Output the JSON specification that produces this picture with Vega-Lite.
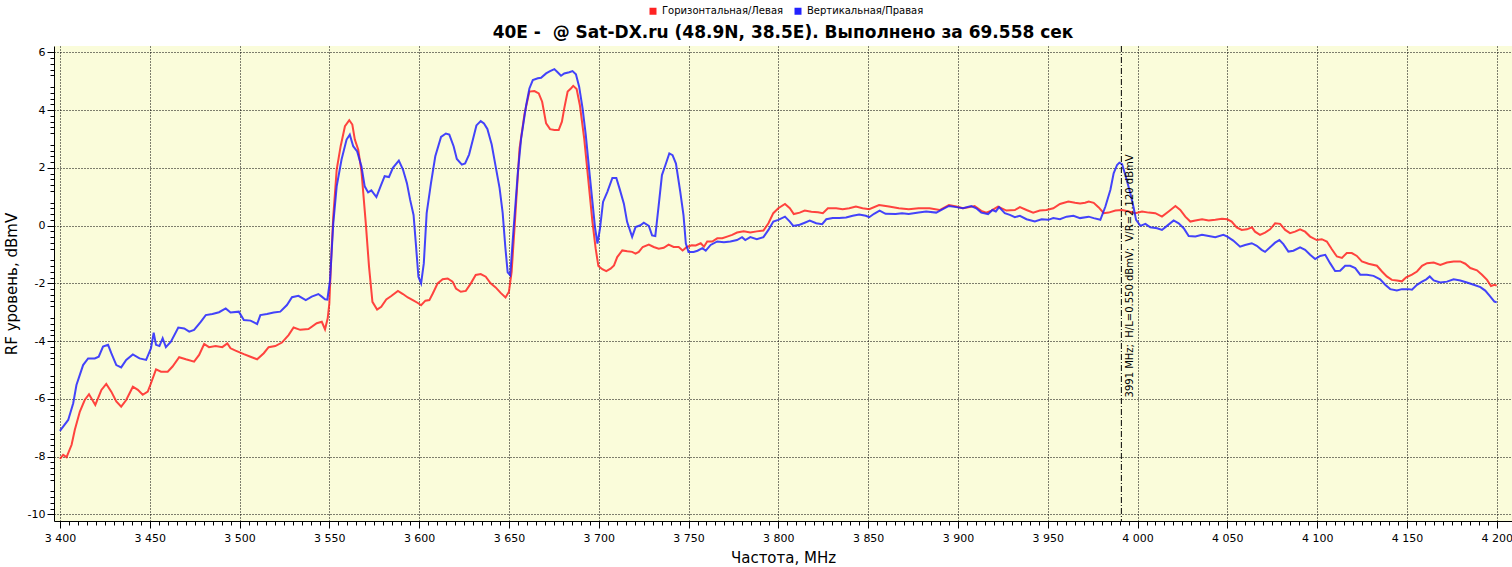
{
  "$schema": "https://vega.github.io/schema/vega-lite/v6.json",
  "autosize": "none",
  "padding": {"left": 54, "top": 46, "right": 0, "bottom": 46},
  "width": 1458,
  "height": 475,
  "background": "white",
  "title": {
    "text": "40E - \u00a0@ Sat-DX.ru (48.9N, 38.5E). Выполнено за 69.558 сек",
    "font": "DejaVu Sans",
    "fontSize": 17,
    "fontWeight": "bold",
    "anchor": "middle",
    "offset": 4,
    "dy": 40,
    "color": "black"
  },
  "config": {
    "view": {"stroke": null, "fill": "#fafcda"},
    "font": "DejaVu Sans",
    "axis": {
      "labelFont": "DejaVu Sans",
      "labelFontSize": 11,
      "labelColor": "black",
      "tickColor": "black",
      "domainColor": "black",
      "titleFont": "DejaVu Sans",
      "titleFontSize": 15,
      "titleFontWeight": "normal",
      "titleColor": "black"
    }
  },
  "resolve": {"axis": {"x": "independent", "y": "independent"}},
  "layer": [
    {
      "data": {
        "values": [
          {"s": "H", "f": 3400, "v": -8.08}, {"s": "H", "f": 3401.8, "v": -7.94}, {"s": "H", "f": 3403.7, "v": -8.02},
          {"s": "H", "f": 3406.5, "v": -7.59}, {"s": "H", "f": 3408.3, "v": -7.07}, {"s": "H", "f": 3411.1, "v": -6.44},
          {"s": "H", "f": 3413.8, "v": -6.04}, {"s": "H", "f": 3416.2, "v": -5.84}, {"s": "H", "f": 3419.7, "v": -6.21},
          {"s": "H", "f": 3423.1, "v": -5.69}, {"s": "H", "f": 3425.8, "v": -5.48}, {"s": "H", "f": 3428.6, "v": -5.75},
          {"s": "H", "f": 3431.4, "v": -6.09}, {"s": "H", "f": 3434.1, "v": -6.27}, {"s": "H", "f": 3436.9, "v": -6.04},
          {"s": "H", "f": 3440.6, "v": -5.58}, {"s": "H", "f": 3443.4, "v": -5.69}, {"s": "H", "f": 3446.1, "v": -5.86},
          {"s": "H", "f": 3448.9, "v": -5.75}, {"s": "H", "f": 3450.7, "v": -5.46}, {"s": "H", "f": 3453.5, "v": -4.98},
          {"s": "H", "f": 3456.3, "v": -5.06}, {"s": "H", "f": 3460, "v": -5.06}, {"s": "H", "f": 3462.7, "v": -4.88},
          {"s": "H", "f": 3466.4, "v": -4.56}, {"s": "H", "f": 3470.1, "v": -4.63}, {"s": "H", "f": 3474.7, "v": -4.71},
          {"s": "H", "f": 3477.5, "v": -4.48}, {"s": "H", "f": 3480.3, "v": -4.1}, {"s": "H", "f": 3483, "v": -4.21},
          {"s": "H", "f": 3486.7, "v": -4.17}, {"s": "H", "f": 3490.4, "v": -4.21}, {"s": "H", "f": 3493.2, "v": -4.08},
          {"s": "H", "f": 3495, "v": -4.25}, {"s": "H", "f": 3497.8, "v": -4.33}, {"s": "H", "f": 3502.4, "v": -4.45},
          {"s": "H", "f": 3506.1, "v": -4.54}, {"s": "H", "f": 3509.8, "v": -4.63}, {"s": "H", "f": 3513.5, "v": -4.42},
          {"s": "H", "f": 3516.2, "v": -4.21}, {"s": "H", "f": 3519.9, "v": -4.17}, {"s": "H", "f": 3523.6, "v": -4.05},
          {"s": "H", "f": 3527.3, "v": -3.79}, {"s": "H", "f": 3530.1, "v": -3.53}, {"s": "H", "f": 3533.8, "v": -3.61},
          {"s": "H", "f": 3538.4, "v": -3.58}, {"s": "H", "f": 3543, "v": -3.38}, {"s": "H", "f": 3545.8, "v": -3.33},
          {"s": "H", "f": 3547.6, "v": -3.59}, {"s": "H", "f": 3549.1, "v": -3.21}, {"s": "H", "f": 3550, "v": -2.7},
          {"s": "H", "f": 3551, "v": -1.2}, {"s": "H", "f": 3552.2, "v": 0.32}, {"s": "H", "f": 3554.1, "v": 1.94},
          {"s": "H", "f": 3556.3, "v": 2.75}, {"s": "H", "f": 3558.7, "v": 3.44}, {"s": "H", "f": 3561.1, "v": 3.65},
          {"s": "H", "f": 3562.8, "v": 3.5}, {"s": "H", "f": 3564.2, "v": 2.98}, {"s": "H", "f": 3566.1, "v": 2.63},
          {"s": "H", "f": 3567.9, "v": 1.88}, {"s": "H", "f": 3570.3, "v": 0.08}, {"s": "H", "f": 3572.1, "v": -1.42},
          {"s": "H", "f": 3574, "v": -2.64}, {"s": "H", "f": 3576.6, "v": -2.91}, {"s": "H", "f": 3578.9, "v": -2.81},
          {"s": "H", "f": 3581.7, "v": -2.56}, {"s": "H", "f": 3584.5, "v": -2.44}, {"s": "H", "f": 3588.2, "v": -2.26},
          {"s": "H", "f": 3591, "v": -2.37}, {"s": "H", "f": 3593.7, "v": -2.49}, {"s": "H", "f": 3596.5, "v": -2.58},
          {"s": "H", "f": 3599.3, "v": -2.68}, {"s": "H", "f": 3601.1, "v": -2.76}, {"s": "H", "f": 3603.5, "v": -2.6},
          {"s": "H", "f": 3605.7, "v": -2.58}, {"s": "H", "f": 3607.6, "v": -2.35}, {"s": "H", "f": 3610.3, "v": -2.0},
          {"s": "H", "f": 3613.1, "v": -1.86}, {"s": "H", "f": 3615.9, "v": -1.83}, {"s": "H", "f": 3618.6, "v": -1.94},
          {"s": "H", "f": 3620.5, "v": -2.18}, {"s": "H", "f": 3623.2, "v": -2.29}, {"s": "H", "f": 3626, "v": -2.26},
          {"s": "H", "f": 3628.8, "v": -2.0}, {"s": "H", "f": 3631.5, "v": -1.71}, {"s": "H", "f": 3634.3, "v": -1.68},
          {"s": "H", "f": 3637.1, "v": -1.77}, {"s": "H", "f": 3639.8, "v": -2.0}, {"s": "H", "f": 3642.6, "v": -2.14},
          {"s": "H", "f": 3645.4, "v": -2.33}, {"s": "H", "f": 3648.1, "v": -2.49}, {"s": "H", "f": 3650, "v": -2.29},
          {"s": "H", "f": 3651.5, "v": -1.6}, {"s": "H", "f": 3653.1, "v": -0.1}, {"s": "H", "f": 3655.9, "v": 2.67},
          {"s": "H", "f": 3658.7, "v": 3.88}, {"s": "H", "f": 3661.4, "v": 4.64}, {"s": "H", "f": 3664.2, "v": 4.66},
          {"s": "H", "f": 3666.6, "v": 4.58}, {"s": "H", "f": 3668.5, "v": 4.29}, {"s": "H", "f": 3670.7, "v": 3.54},
          {"s": "H", "f": 3672.9, "v": 3.34}, {"s": "H", "f": 3675.3, "v": 3.31}, {"s": "H", "f": 3677.7, "v": 3.31},
          {"s": "H", "f": 3679.5, "v": 3.6}, {"s": "H", "f": 3680.8, "v": 4.06}, {"s": "H", "f": 3682.7, "v": 4.64},
          {"s": "H", "f": 3684.5, "v": 4.75}, {"s": "H", "f": 3685.8, "v": 4.84}, {"s": "H", "f": 3687.7, "v": 4.73},
          {"s": "H", "f": 3689.5, "v": 4.17}, {"s": "H", "f": 3691.9, "v": 3.02}, {"s": "H", "f": 3694.3, "v": 1.51},
          {"s": "H", "f": 3696.5, "v": 0.13}, {"s": "H", "f": 3698.3, "v": -0.8}, {"s": "H", "f": 3699.8, "v": -1.4},
          {"s": "H", "f": 3702, "v": -1.51}, {"s": "H", "f": 3704.2, "v": -1.58}, {"s": "H", "f": 3706.6, "v": -1.49},
          {"s": "H", "f": 3708.5, "v": -1.38}, {"s": "H", "f": 3710.3, "v": -1.09}, {"s": "H", "f": 3713.1, "v": -0.86},
          {"s": "H", "f": 3715.9, "v": -0.89}, {"s": "H", "f": 3718.6, "v": -0.91}, {"s": "H", "f": 3720.5, "v": -0.97},
          {"s": "H", "f": 3722.3, "v": -0.91}, {"s": "H", "f": 3724.5, "v": -0.74}, {"s": "H", "f": 3727.9, "v": -0.66},
          {"s": "H", "f": 3730.6, "v": -0.74}, {"s": "H", "f": 3733.4, "v": -0.8}, {"s": "H", "f": 3736.2, "v": -0.77},
          {"s": "H", "f": 3738.9, "v": -0.66}, {"s": "H", "f": 3741.7, "v": -0.74}, {"s": "H", "f": 3744.5, "v": -0.74},
          {"s": "H", "f": 3746.7, "v": -0.86}, {"s": "H", "f": 3749.1, "v": -0.74}, {"s": "H", "f": 3751.8, "v": -0.68},
          {"s": "H", "f": 3754, "v": -0.69}, {"s": "H", "f": 3756.8, "v": -0.61}, {"s": "H", "f": 3758.6, "v": -0.73},
          {"s": "H", "f": 3760.4, "v": -0.55}, {"s": "H", "f": 3763.2, "v": -0.55}, {"s": "H", "f": 3766, "v": -0.44},
          {"s": "H", "f": 3768.8, "v": -0.44}, {"s": "H", "f": 3771.5, "v": -0.38}, {"s": "H", "f": 3774.3, "v": -0.32},
          {"s": "H", "f": 3777, "v": -0.24}, {"s": "H", "f": 3780.7, "v": -0.2}, {"s": "H", "f": 3784.4, "v": -0.24},
          {"s": "H", "f": 3788, "v": -0.2}, {"s": "H", "f": 3791.7, "v": -0.17}, {"s": "H", "f": 3794.5, "v": 0.08},
          {"s": "H", "f": 3797.2, "v": 0.43}, {"s": "H", "f": 3800, "v": 0.6}, {"s": "H", "f": 3803.7, "v": 0.75},
          {"s": "H", "f": 3806.4, "v": 0.6}, {"s": "H", "f": 3808.6, "v": 0.4}, {"s": "H", "f": 3811.9, "v": 0.45},
          {"s": "H", "f": 3814.7, "v": 0.52}, {"s": "H", "f": 3818.4, "v": 0.48}, {"s": "H", "f": 3822.1, "v": 0.46},
          {"s": "H", "f": 3824.8, "v": 0.43}, {"s": "H", "f": 3827.6, "v": 0.6}, {"s": "H", "f": 3832.2, "v": 0.6},
          {"s": "H", "f": 3835.8, "v": 0.57}, {"s": "H", "f": 3839.5, "v": 0.6}, {"s": "H", "f": 3843.2, "v": 0.66},
          {"s": "H", "f": 3846.9, "v": 0.6}, {"s": "H", "f": 3850.6, "v": 0.57}, {"s": "H", "f": 3856.1, "v": 0.71},
          {"s": "H", "f": 3861.6, "v": 0.66}, {"s": "H", "f": 3867.1, "v": 0.6}, {"s": "H", "f": 3872.6, "v": 0.57},
          {"s": "H", "f": 3878.1, "v": 0.6}, {"s": "H", "f": 3884.2, "v": 0.6}, {"s": "H", "f": 3889.8, "v": 0.54},
          {"s": "H", "f": 3895, "v": 0.71}, {"s": "H", "f": 3899.1, "v": 0.66}, {"s": "H", "f": 3902.8, "v": 0.6},
          {"s": "H", "f": 3906.5, "v": 0.64}, {"s": "H", "f": 3909.3, "v": 0.68}, {"s": "H", "f": 3913, "v": 0.51},
          {"s": "H", "f": 3915.8, "v": 0.45}, {"s": "H", "f": 3918.6, "v": 0.52}, {"s": "H", "f": 3922.3, "v": 0.66},
          {"s": "H", "f": 3927, "v": 0.52}, {"s": "H", "f": 3931.7, "v": 0.54}, {"s": "H", "f": 3934.5, "v": 0.64},
          {"s": "H", "f": 3938.2, "v": 0.54}, {"s": "H", "f": 3941.9, "v": 0.45}, {"s": "H", "f": 3945.6, "v": 0.52},
          {"s": "H", "f": 3949.3, "v": 0.54}, {"s": "H", "f": 3953.1, "v": 0.6}, {"s": "H", "f": 3956.8, "v": 0.75},
          {"s": "H", "f": 3961.5, "v": 0.83}, {"s": "H", "f": 3965.2, "v": 0.79}, {"s": "H", "f": 3968, "v": 0.77},
          {"s": "H", "f": 3970.8, "v": 0.79}, {"s": "H", "f": 3972.8, "v": 0.83}, {"s": "H", "f": 3975.6, "v": 0.79},
          {"s": "H", "f": 3978.4, "v": 0.63}, {"s": "H", "f": 3981.2, "v": 0.43}, {"s": "H", "f": 3983.9, "v": 0.45},
          {"s": "H", "f": 3987.7, "v": 0.52}, {"s": "H", "f": 3991.4, "v": 0.54}, {"s": "H", "f": 3995.1, "v": 0.49},
          {"s": "H", "f": 3998.8, "v": 0.43}, {"s": "H", "f": 4002.5, "v": 0.49}, {"s": "H", "f": 4006.2, "v": 0.45},
          {"s": "H", "f": 4009.9, "v": 0.43}, {"s": "H", "f": 4013.6, "v": 0.31}, {"s": "H", "f": 4017.3, "v": 0.49},
          {"s": "H", "f": 4021.1, "v": 0.68}, {"s": "H", "f": 4023.8, "v": 0.54}, {"s": "H", "f": 4026.6, "v": 0.31},
          {"s": "H", "f": 4029.4, "v": 0.14}, {"s": "H", "f": 4032.2, "v": 0.18}, {"s": "H", "f": 4035.9, "v": 0.22},
          {"s": "H", "f": 4039.6, "v": 0.18}, {"s": "H", "f": 4043.3, "v": 0.2}, {"s": "H", "f": 4047, "v": 0.24},
          {"s": "H", "f": 4050, "v": 0.22}, {"s": "H", "f": 4052.4, "v": 0.14}, {"s": "H", "f": 4055.2, "v": -0.06},
          {"s": "H", "f": 4058, "v": -0.15}, {"s": "H", "f": 4060.9, "v": -0.13}, {"s": "H", "f": 4063.7, "v": -0.06},
          {"s": "H", "f": 4065.4, "v": -0.21}, {"s": "H", "f": 4068.2, "v": -0.32}, {"s": "H", "f": 4071, "v": -0.24},
          {"s": "H", "f": 4073.8, "v": -0.13}, {"s": "H", "f": 4076.6, "v": 0.08}, {"s": "H", "f": 4079.4, "v": 0.06},
          {"s": "H", "f": 4082.2, "v": -0.15}, {"s": "H", "f": 4084.9, "v": -0.26}, {"s": "H", "f": 4087.7, "v": -0.21},
          {"s": "H", "f": 4090.5, "v": -0.13}, {"s": "H", "f": 4093.3, "v": -0.21}, {"s": "H", "f": 4096.1, "v": -0.38},
          {"s": "H", "f": 4099.8, "v": -0.5}, {"s": "H", "f": 4102.6, "v": -0.47}, {"s": "H", "f": 4105.4, "v": -0.55},
          {"s": "H", "f": 4108.2, "v": -0.82}, {"s": "H", "f": 4111, "v": -1.07}, {"s": "H", "f": 4113.8, "v": -1.12},
          {"s": "H", "f": 4116.5, "v": -0.95}, {"s": "H", "f": 4119.3, "v": -0.95}, {"s": "H", "f": 4122.1, "v": -1.05},
          {"s": "H", "f": 4124.9, "v": -1.24}, {"s": "H", "f": 4128.6, "v": -1.32}, {"s": "H", "f": 4133.3, "v": -1.39},
          {"s": "H", "f": 4136.1, "v": -1.59}, {"s": "H", "f": 4138.8, "v": -1.76}, {"s": "H", "f": 4141.6, "v": -1.88},
          {"s": "H", "f": 4144.4, "v": -1.9}, {"s": "H", "f": 4147.2, "v": -1.93}, {"s": "H", "f": 4149.6, "v": -1.79},
          {"s": "H", "f": 4152.8, "v": -1.7}, {"s": "H", "f": 4155.6, "v": -1.59}, {"s": "H", "f": 4158.4, "v": -1.39},
          {"s": "H", "f": 4161.2, "v": -1.3}, {"s": "H", "f": 4164.9, "v": -1.28}, {"s": "H", "f": 4168.6, "v": -1.36},
          {"s": "H", "f": 4172.3, "v": -1.28}, {"s": "H", "f": 4176, "v": -1.24}, {"s": "H", "f": 4179.7, "v": -1.24},
          {"s": "H", "f": 4182.5, "v": -1.32}, {"s": "H", "f": 4185.3, "v": -1.47}, {"s": "H", "f": 4189, "v": -1.55},
          {"s": "H", "f": 4191.8, "v": -1.7}, {"s": "H", "f": 4194.6, "v": -1.88}, {"s": "H", "f": 4196.8, "v": -2.09},
          {"s": "H", "f": 4198.7, "v": -2.05}, {"s": "H", "f": 4200, "v": -2.08},

          {"s": "V", "f": 3400, "v": -7.11}, {"s": "V", "f": 3404.6, "v": -6.73}, {"s": "V", "f": 3407.4, "v": -6.15},
          {"s": "V", "f": 3409.2, "v": -5.52}, {"s": "V", "f": 3412.9, "v": -4.83}, {"s": "V", "f": 3415.7, "v": -4.6},
          {"s": "V", "f": 3419.4, "v": -4.6}, {"s": "V", "f": 3421.6, "v": -4.54}, {"s": "V", "f": 3424, "v": -4.19},
          {"s": "V", "f": 3426.8, "v": -4.13}, {"s": "V", "f": 3428.6, "v": -4.42}, {"s": "V", "f": 3431.4, "v": -4.83},
          {"s": "V", "f": 3434.1, "v": -4.91}, {"s": "V", "f": 3436.9, "v": -4.65}, {"s": "V", "f": 3440.6, "v": -4.46},
          {"s": "V", "f": 3444.3, "v": -4.6}, {"s": "V", "f": 3448, "v": -4.65}, {"s": "V", "f": 3450.7, "v": -4.25},
          {"s": "V", "f": 3452.2, "v": -3.71}, {"s": "V", "f": 3453.5, "v": -4.13}, {"s": "V", "f": 3455.4, "v": -4.17},
          {"s": "V", "f": 3457.2, "v": -3.9}, {"s": "V", "f": 3459, "v": -4.21}, {"s": "V", "f": 3461.8, "v": -4.02},
          {"s": "V", "f": 3465.9, "v": -3.53}, {"s": "V", "f": 3469.2, "v": -3.56}, {"s": "V", "f": 3472, "v": -3.67},
          {"s": "V", "f": 3474.7, "v": -3.61}, {"s": "V", "f": 3478.4, "v": -3.33}, {"s": "V", "f": 3481.2, "v": -3.1},
          {"s": "V", "f": 3484.9, "v": -3.06}, {"s": "V", "f": 3488.6, "v": -3.0}, {"s": "V", "f": 3492.3, "v": -2.87},
          {"s": "V", "f": 3495, "v": -3.01}, {"s": "V", "f": 3499.6, "v": -2.98}, {"s": "V", "f": 3502.4, "v": -3.27},
          {"s": "V", "f": 3506.1, "v": -3.29}, {"s": "V", "f": 3509.8, "v": -3.41}, {"s": "V", "f": 3511.6, "v": -3.1},
          {"s": "V", "f": 3515.3, "v": -3.06}, {"s": "V", "f": 3519, "v": -3.01}, {"s": "V", "f": 3522.7, "v": -2.98},
          {"s": "V", "f": 3526.4, "v": -2.75}, {"s": "V", "f": 3529.2, "v": -2.48}, {"s": "V", "f": 3532.8, "v": -2.43},
          {"s": "V", "f": 3536.9, "v": -2.58}, {"s": "V", "f": 3540.2, "v": -2.46}, {"s": "V", "f": 3543.9, "v": -2.37},
          {"s": "V", "f": 3545.8, "v": -2.46}, {"s": "V", "f": 3547.6, "v": -2.55}, {"s": "V", "f": 3548.9, "v": -2.56},
          {"s": "V", "f": 3550.4, "v": -1.89}, {"s": "V", "f": 3552.2, "v": 0.08}, {"s": "V", "f": 3554.1, "v": 1.36},
          {"s": "V", "f": 3556.8, "v": 2.29}, {"s": "V", "f": 3559.6, "v": 2.98}, {"s": "V", "f": 3561.4, "v": 3.15},
          {"s": "V", "f": 3563.3, "v": 2.75}, {"s": "V", "f": 3565.5, "v": 2.57}, {"s": "V", "f": 3567.9, "v": 2.05},
          {"s": "V", "f": 3569.7, "v": 1.36}, {"s": "V", "f": 3571.6, "v": 1.15}, {"s": "V", "f": 3573.4, "v": 1.22},
          {"s": "V", "f": 3576.2, "v": 0.99}, {"s": "V", "f": 3578.9, "v": 1.42}, {"s": "V", "f": 3580.8, "v": 1.71},
          {"s": "V", "f": 3583.2, "v": 1.68}, {"s": "V", "f": 3585.4, "v": 2.0}, {"s": "V", "f": 3588.7, "v": 2.25},
          {"s": "V", "f": 3591, "v": 1.94}, {"s": "V", "f": 3593.2, "v": 1.47}, {"s": "V", "f": 3595, "v": 0.89},
          {"s": "V", "f": 3596.9, "v": 0.37}, {"s": "V", "f": 3598.3, "v": -0.73}, {"s": "V", "f": 3599.6, "v": -1.77},
          {"s": "V", "f": 3601.1, "v": -2.0}, {"s": "V", "f": 3602.6, "v": -1.31}, {"s": "V", "f": 3604.2, "v": 0.43},
          {"s": "V", "f": 3606.6, "v": 1.47}, {"s": "V", "f": 3609, "v": 2.4}, {"s": "V", "f": 3612.2, "v": 3.07},
          {"s": "V", "f": 3614.9, "v": 3.19}, {"s": "V", "f": 3616.8, "v": 3.15}, {"s": "V", "f": 3619.2, "v": 2.75},
          {"s": "V", "f": 3621, "v": 2.31}, {"s": "V", "f": 3623.8, "v": 2.11}, {"s": "V", "f": 3625.6, "v": 2.15},
          {"s": "V", "f": 3627.8, "v": 2.46}, {"s": "V", "f": 3629.7, "v": 2.92}, {"s": "V", "f": 3631.9, "v": 3.47},
          {"s": "V", "f": 3634.3, "v": 3.62}, {"s": "V", "f": 3636.1, "v": 3.54}, {"s": "V", "f": 3638, "v": 3.35},
          {"s": "V", "f": 3640.4, "v": 2.81}, {"s": "V", "f": 3642.6, "v": 2.05}, {"s": "V", "f": 3644.8, "v": 1.3},
          {"s": "V", "f": 3646.5, "v": 0.45}, {"s": "V", "f": 3648, "v": -0.75}, {"s": "V", "f": 3649.3, "v": -1.62},
          {"s": "V", "f": 3650.7, "v": -1.72}, {"s": "V", "f": 3652.6, "v": -0.1}, {"s": "V", "f": 3655, "v": 1.86},
          {"s": "V", "f": 3656.8, "v": 3.02}, {"s": "V", "f": 3659.6, "v": 4.17}, {"s": "V", "f": 3661.4, "v": 4.75},
          {"s": "V", "f": 3663.3, "v": 5.04}, {"s": "V", "f": 3666.1, "v": 5.1}, {"s": "V", "f": 3667.9, "v": 5.12},
          {"s": "V", "f": 3670.7, "v": 5.27}, {"s": "V", "f": 3672.9, "v": 5.35}, {"s": "V", "f": 3675.3, "v": 5.42},
          {"s": "V", "f": 3677.1, "v": 5.31}, {"s": "V", "f": 3679, "v": 5.19}, {"s": "V", "f": 3680.8, "v": 5.27},
          {"s": "V", "f": 3683.6, "v": 5.31}, {"s": "V", "f": 3685.4, "v": 5.35}, {"s": "V", "f": 3687.3, "v": 5.24},
          {"s": "V", "f": 3689.1, "v": 4.81}, {"s": "V", "f": 3691, "v": 4.06}, {"s": "V", "f": 3692.8, "v": 3.13},
          {"s": "V", "f": 3694.6, "v": 1.98}, {"s": "V", "f": 3696.5, "v": 0.82}, {"s": "V", "f": 3698, "v": -0.1},
          {"s": "V", "f": 3699.3, "v": -0.62}, {"s": "V", "f": 3700.7, "v": -0.1}, {"s": "V", "f": 3702.4, "v": 0.82},
          {"s": "V", "f": 3704.8, "v": 1.17}, {"s": "V", "f": 3707.6, "v": 1.65}, {"s": "V", "f": 3709.8, "v": 1.65},
          {"s": "V", "f": 3711.6, "v": 1.28}, {"s": "V", "f": 3714, "v": 0.76}, {"s": "V", "f": 3715.8, "v": 0.13},
          {"s": "V", "f": 3718.6, "v": -0.39}, {"s": "V", "f": 3720.5, "v": -0.05}, {"s": "V", "f": 3723.2, "v": 0.01},
          {"s": "V", "f": 3725.1, "v": 0.1}, {"s": "V", "f": 3727.9, "v": -0.01}, {"s": "V", "f": 3729.7, "v": -0.34},
          {"s": "V", "f": 3731.5, "v": -0.36}, {"s": "V", "f": 3733.4, "v": 0.71}, {"s": "V", "f": 3735.2, "v": 1.75},
          {"s": "V", "f": 3737.1, "v": 2.09}, {"s": "V", "f": 3739.3, "v": 2.5}, {"s": "V", "f": 3741.1, "v": 2.44},
          {"s": "V", "f": 3743, "v": 2.15}, {"s": "V", "f": 3745.4, "v": 1.17}, {"s": "V", "f": 3747.2, "v": 0.36},
          {"s": "V", "f": 3748.5, "v": -0.62}, {"s": "V", "f": 3750, "v": -0.91}, {"s": "V", "f": 3752.8, "v": -0.91},
          {"s": "V", "f": 3755, "v": -0.87}, {"s": "V", "f": 3757.7, "v": -0.78}, {"s": "V", "f": 3759.6, "v": -0.87},
          {"s": "V", "f": 3762.3, "v": -0.67}, {"s": "V", "f": 3766, "v": -0.55}, {"s": "V", "f": 3769.7, "v": -0.58},
          {"s": "V", "f": 3773.3, "v": -0.55}, {"s": "V", "f": 3777, "v": -0.5}, {"s": "V", "f": 3779.8, "v": -0.4},
          {"s": "V", "f": 3781.6, "v": -0.5}, {"s": "V", "f": 3784.4, "v": -0.4}, {"s": "V", "f": 3788, "v": -0.47},
          {"s": "V", "f": 3791.7, "v": -0.4}, {"s": "V", "f": 3794.5, "v": -0.15}, {"s": "V", "f": 3797.2, "v": 0.14},
          {"s": "V", "f": 3800, "v": 0.2}, {"s": "V", "f": 3803.7, "v": 0.31}, {"s": "V", "f": 3806.4, "v": 0.14},
          {"s": "V", "f": 3808.3, "v": -0.01}, {"s": "V", "f": 3811.9, "v": 0.03}, {"s": "V", "f": 3814.7, "v": 0.1},
          {"s": "V", "f": 3817.5, "v": 0.17}, {"s": "V", "f": 3821.1, "v": 0.08}, {"s": "V", "f": 3824.4, "v": 0.05},
          {"s": "V", "f": 3826.7, "v": 0.22}, {"s": "V", "f": 3830.3, "v": 0.26}, {"s": "V", "f": 3834, "v": 0.26},
          {"s": "V", "f": 3837.7, "v": 0.28}, {"s": "V", "f": 3841.4, "v": 0.34}, {"s": "V", "f": 3845, "v": 0.38},
          {"s": "V", "f": 3848.7, "v": 0.34}, {"s": "V", "f": 3850.6, "v": 0.29}, {"s": "V", "f": 3853.3, "v": 0.41},
          {"s": "V", "f": 3856.4, "v": 0.52}, {"s": "V", "f": 3859.7, "v": 0.41}, {"s": "V", "f": 3865.3, "v": 0.4},
          {"s": "V", "f": 3868.9, "v": 0.43}, {"s": "V", "f": 3872.6, "v": 0.4}, {"s": "V", "f": 3878.1, "v": 0.45},
          {"s": "V", "f": 3882.3, "v": 0.49}, {"s": "V", "f": 3887.9, "v": 0.45}, {"s": "V", "f": 3891.6, "v": 0.57},
          {"s": "V", "f": 3895, "v": 0.68}, {"s": "V", "f": 3899.1, "v": 0.64}, {"s": "V", "f": 3902.8, "v": 0.6},
          {"s": "V", "f": 3907.4, "v": 0.68}, {"s": "V", "f": 3910.2, "v": 0.6}, {"s": "V", "f": 3913, "v": 0.45},
          {"s": "V", "f": 3916.8, "v": 0.4}, {"s": "V", "f": 3919.2, "v": 0.54}, {"s": "V", "f": 3921.1, "v": 0.49},
          {"s": "V", "f": 3922.9, "v": 0.64}, {"s": "V", "f": 3926.1, "v": 0.43}, {"s": "V", "f": 3928.9, "v": 0.37},
          {"s": "V", "f": 3931.7, "v": 0.29}, {"s": "V", "f": 3934.5, "v": 0.34}, {"s": "V", "f": 3938.2, "v": 0.22},
          {"s": "V", "f": 3942.8, "v": 0.14}, {"s": "V", "f": 3946.6, "v": 0.22}, {"s": "V", "f": 3950.3, "v": 0.2},
          {"s": "V", "f": 3953.1, "v": 0.26}, {"s": "V", "f": 3956.8, "v": 0.22}, {"s": "V", "f": 3960.5, "v": 0.31},
          {"s": "V", "f": 3964.3, "v": 0.34}, {"s": "V", "f": 3968, "v": 0.26}, {"s": "V", "f": 3972.8, "v": 0.31},
          {"s": "V", "f": 3975.6, "v": 0.26}, {"s": "V", "f": 3979.3, "v": 0.2}, {"s": "V", "f": 3982.1, "v": 0.66},
          {"s": "V", "f": 3984.9, "v": 1.24}, {"s": "V", "f": 3986.7, "v": 1.81}, {"s": "V", "f": 3988.6, "v": 2.1},
          {"s": "V", "f": 3989.9, "v": 2.18}, {"s": "V", "f": 3991.4, "v": 2.13}, {"s": "V", "f": 3993.2, "v": 1.75},
          {"s": "V", "f": 3996, "v": 1.12}, {"s": "V", "f": 3997.9, "v": 0.6}, {"s": "V", "f": 3999.2, "v": 0.2},
          {"s": "V", "f": 4001.6, "v": -0.01}, {"s": "V", "f": 4004.4, "v": 0.06}, {"s": "V", "f": 4007.1, "v": -0.06},
          {"s": "V", "f": 4010.9, "v": -0.09}, {"s": "V", "f": 4013.6, "v": -0.15}, {"s": "V", "f": 4016.4, "v": -0.01},
          {"s": "V", "f": 4020.1, "v": 0.18}, {"s": "V", "f": 4022.9, "v": 0.08}, {"s": "V", "f": 4025.7, "v": -0.09},
          {"s": "V", "f": 4028.5, "v": -0.36}, {"s": "V", "f": 4032.2, "v": -0.38}, {"s": "V", "f": 4035.9, "v": -0.32},
          {"s": "V", "f": 4039.6, "v": -0.36}, {"s": "V", "f": 4043.3, "v": -0.4}, {"s": "V", "f": 4047.8, "v": -0.32},
          {"s": "V", "f": 4050, "v": -0.38}, {"s": "V", "f": 4053.3, "v": -0.52}, {"s": "V", "f": 4057.1, "v": -0.73},
          {"s": "V", "f": 4059.9, "v": -0.67}, {"s": "V", "f": 4063.6, "v": -0.61}, {"s": "V", "f": 4066.4, "v": -0.7},
          {"s": "V", "f": 4069.1, "v": -0.84}, {"s": "V", "f": 4071, "v": -0.91}, {"s": "V", "f": 4073.8, "v": -0.75},
          {"s": "V", "f": 4076.6, "v": -0.59}, {"s": "V", "f": 4079, "v": -0.5}, {"s": "V", "f": 4081.2, "v": -0.64},
          {"s": "V", "f": 4084, "v": -0.9}, {"s": "V", "f": 4086.8, "v": -0.87}, {"s": "V", "f": 4090.5, "v": -0.75},
          {"s": "V", "f": 4093.3, "v": -0.84}, {"s": "V", "f": 4096.1, "v": -1.01}, {"s": "V", "f": 4098.9, "v": -1.16},
          {"s": "V", "f": 4101.7, "v": -1.05}, {"s": "V", "f": 4104.5, "v": -1.01}, {"s": "V", "f": 4107.2, "v": -1.3},
          {"s": "V", "f": 4110, "v": -1.57}, {"s": "V", "f": 4112.8, "v": -1.56}, {"s": "V", "f": 4115.6, "v": -1.39},
          {"s": "V", "f": 4118.4, "v": -1.39}, {"s": "V", "f": 4121.2, "v": -1.47}, {"s": "V", "f": 4124, "v": -1.7},
          {"s": "V", "f": 4127.7, "v": -1.7}, {"s": "V", "f": 4131.4, "v": -1.74}, {"s": "V", "f": 4135.1, "v": -1.86},
          {"s": "V", "f": 4137.9, "v": -2.05}, {"s": "V", "f": 4140.7, "v": -2.2}, {"s": "V", "f": 4144.4, "v": -2.25},
          {"s": "V", "f": 4147.2, "v": -2.2}, {"s": "V", "f": 4150.9, "v": -2.2}, {"s": "V", "f": 4152.8, "v": -2.22},
          {"s": "V", "f": 4155.6, "v": -2.05}, {"s": "V", "f": 4158.4, "v": -1.94}, {"s": "V", "f": 4160.8, "v": -1.86},
          {"s": "V", "f": 4162.7, "v": -1.76}, {"s": "V", "f": 4164.9, "v": -1.9}, {"s": "V", "f": 4168.6, "v": -1.97},
          {"s": "V", "f": 4172.3, "v": -1.94}, {"s": "V", "f": 4176, "v": -1.86}, {"s": "V", "f": 4179.7, "v": -1.9},
          {"s": "V", "f": 4183.4, "v": -1.97}, {"s": "V", "f": 4187.2, "v": -2.05}, {"s": "V", "f": 4190.9, "v": -2.13},
          {"s": "V", "f": 4193.6, "v": -2.25}, {"s": "V", "f": 4196.1, "v": -2.43}, {"s": "V", "f": 4198.7, "v": -2.63},
          {"s": "V", "f": 4200, "v": -2.66}
        ]
      },
      "mark": {"type": "line", "strokeWidth": 2, "opacity": 0.85},
      "encoding": {
        "x": {
          "field": "f",
          "type": "quantitative",
          "title": "Частота, MHz",
          "scale": {"domain": [3396.7, 4208.5], "nice": false, "zero": false},
          "axis": {
            "orient": "bottom",
            "values": [3400, 3450, 3500, 3550, 3600, 3650, 3700, 3750, 3800, 3850, 3900, 3950, 4000, 4050, 4100, 4150, 4200],
            "labelExpr": "replace(format(datum.value, ','), ',', ' ')",
            "labelOverlap": false,
            "labelPadding": 4,
            "tickSize": 7,
            "grid": true,
            "gridColor": "black",
            "gridDash": [1, 2],
            "gridOpacity": 1,
            "titlePadding": 7
          }
        },
        "y": {
          "field": "v",
          "type": "quantitative",
          "title": "RF уровень, dBmV",
          "scale": {"domain": [-10.23, 6.22], "nice": false, "zero": false},
          "axis": {
            "orient": "left",
            "values": [-10, -8, -6, -4, -2, 0, 2, 4, 6],
            "labelExpr": "'' + datum.value",
            "labelOverlap": false,
            "labelPadding": 2,
            "tickSize": 7,
            "grid": true,
            "gridColor": "black",
            "gridDash": [1, 2],
            "gridOpacity": 1,
            "titlePadding": 8
          }
        },
        "color": {
          "field": "s",
          "type": "nominal",
          "scale": {"domain": ["H", "V"], "range": ["#ff2222", "#2222ff"]},
          "legend": {
            "title": null,
            "orient": "none",
            "direction": "horizontal",
            "legendX": 594,
            "legendY": -40,
            "padding": 0,
            "symbolType": "square",
            "symbolSize": 9,
            "symbolStrokeWidth": 4,
            "symbolOpacity": 1,
            "labelFont": "DejaVu Sans",
            "labelFontSize": 10,
            "labelColor": "black",
            "labelOffset": 4,
            "columnPadding": 4,
            "labelExpr": "datum.value === 'H' ? 'Горизонтальная/Левая' : 'Вертикальная/Правая'"
          }
        }
      }
    },
    {
      "data": {"values": [{"f": 3991, "v": 0}]},
      "mark": {"type": "rule", "color": "black", "strokeWidth": 1, "strokeDash": [6, 2, 1, 2]},
      "encoding": {
        "x": {
          "field": "f",
          "type": "quantitative",
          "axis": {
            "orient": "bottom",
            "title": null,
            "labels": false,
            "domain": false,
            "grid": false,
            "tickSize": 4,
            "values": [3405,3410,3415,3420,3425,3430,3435,3440,3445,3455,3460,3465,3470,3475,3480,3485,3490,3495,3505,3510,3515,3520,3525,3530,3535,3540,3545,3555,3560,3565,3570,3575,3580,3585,3590,3595,3605,3610,3615,3620,3625,3630,3635,3640,3645,3655,3660,3665,3670,3675,3680,3685,3690,3695,3705,3710,3715,3720,3725,3730,3735,3740,3745,3755,3760,3765,3770,3775,3780,3785,3790,3795,3805,3810,3815,3820,3825,3830,3835,3840,3845,3855,3860,3865,3870,3875,3880,3885,3890,3895,3905,3910,3915,3920,3925,3930,3935,3940,3945,3955,3960,3965,3970,3975,3980,3985,3990,3995,4005,4010,4015,4020,4025,4030,4035,4040,4045,4055,4060,4065,4070,4075,4080,4085,4090,4095,4105,4110,4115,4120,4125,4130,4135,4140,4145,4155,4160,4165,4170,4175,4180,4185,4190,4195]
          }
        }
      }
    },
    {
      "data": {"values": [{"f": 3991, "v": -5.95, "label": "3991 MHz; \u00a0H/L=0.550 dBmV; \u00a0V/R=2.120 dBmV"}]},
      "mark": {"type": "text", "angle": 270, "align": "left", "baseline": "middle", "dy": 9, "font": "DejaVu Sans", "fontSize": 10, "color": "black"},
      "encoding": {
        "x": {"field": "f", "type": "quantitative", "axis": null},
        "y": {
          "field": "v",
          "type": "quantitative",
          "axis": {
            "orient": "left",
            "title": null,
            "labels": false,
            "domain": false,
            "grid": false,
            "tickSize": 4,
            "values": [-9.8,-9.6,-9.4,-9.2,-8.8,-8.6,-8.4,-8.2,-7.8,-7.6,-7.4,-7.2,-6.8,-6.6,-6.4,-6.2,-5.8,-5.6,-5.4,-5.2,-4.8,-4.6,-4.4,-4.2,-3.8,-3.6,-3.4,-3.2,-2.8,-2.6,-2.4,-2.2,-1.8,-1.6,-1.4,-1.2,-0.8,-0.6,-0.4,-0.2,0.2,0.4,0.6,0.8,1.2,1.4,1.6,1.8,2.2,2.4,2.6,2.8,3.2,3.4,3.6,3.8,4.2,4.4,4.6,4.8,5.2,5.4,5.6,5.8]
          }
        },
        "text": {"field": "label"}
      }
    }
  ]
}
